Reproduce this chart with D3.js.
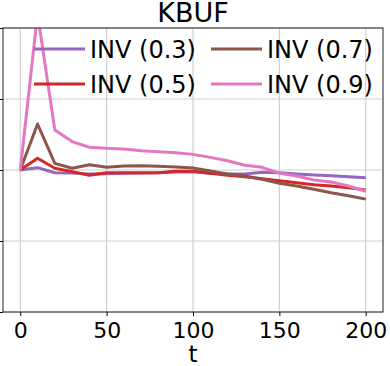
<!DOCTYPE html>
<html>
<head>
<meta charset="utf-8">
<script src="https://cdn.jsdelivr.net/npm/d3@7"></script>
<style>
  body { margin: 0; background: #fff; }
  svg { display: block; font-family: 'DejaVu Sans', sans-serif; }
</style>
</head>
<body>
<div id="chart"></div>
<script>
// data
const T_VALUES = [0, 10, 20, 30, 40, 50, 60, 70, 80, 90, 100, 110, 120, 130, 140, 150, 160, 170, 180, 190, 200];
const INV_03 = [0, 0.033, -0.038, -0.042, -0.056, -0.052, -0.047, -0.038, -0.038, -0.028, -0.023, -0.047, -0.056, -0.056, -0.033, -0.038, -0.056, -0.07, -0.08, -0.094, -0.11];
const INV_05 = [0, 0.165, 0.024, -0.023, -0.075, -0.038, -0.038, -0.042, -0.038, -0.019, -0.019, -0.047, -0.075, -0.094, -0.122, -0.15, -0.178, -0.207, -0.225, -0.25, -0.28];
const INV_07 = [0, 0.648, 0.094, 0.024, 0.075, 0.038, 0.056, 0.061, 0.052, 0.042, 0.028, -0.014, -0.056, -0.085, -0.131, -0.188, -0.225, -0.272, -0.32, -0.362, -0.41];
const INV_09 = [0, 2.2, 0.563, 0.40, 0.32, 0.305, 0.296, 0.27, 0.258, 0.244, 0.22, 0.178, 0.131, 0.066, 0.038, -0.045, -0.085, -0.14, -0.17, -0.225, -0.3];
const SERIES_NAMES = ['INV (0.3)', 'INV (0.5)', 'INV (0.7)', 'INV (0.9)'];
const X_TICKS = [0, 50, 100, 150, 200];
const Y_TICKS = [-2, -1, 0, 1, 2];
const TITLE = 'KBUF';
const X_LABEL = 't';

const WIDTH = 390;
const HEIGHT = 366;
const MARGIN = { top: 28, right: 7, bottom: 54, left: 3 };
const PLOT_W = WIDTH - MARGIN.left - MARGIN.right;
const PLOT_H = HEIGHT - MARGIN.top - MARGIN.bottom;
const COLORS = ['#9467bd', '#d62728', '#8c564b', '#e377c2'];
const GRID_COLOR = '#d0d0d0';

const seriesValues = [INV_03, INV_05, INV_07, INV_09];

const svg = d3.select('#chart')
  .append('svg')
    .attr('width', WIDTH)
    .attr('height', HEIGHT);

// matplotlib style 5% margins on x
const x = d3.scaleLinear().domain([-10, 210]).range([0, PLOT_W]);
const y = d3.scaleLinear().domain([-2, 2]).range([PLOT_H, 0]);

const plot = svg.append('g')
  .attr('transform', `translate(${MARGIN.left}, ${MARGIN.top})`);

plot.append('defs').append('clipPath')
    .attr('id', 'plot-clip')
  .append('rect')
    .attr('width', PLOT_W)
    .attr('height', PLOT_H);

// grid
plot.append('g')
  .selectAll('line')
  .data(X_TICKS)
  .enter()
  .append('line')
    .attr('x1', d => x(d)).attr('x2', d => x(d))
    .attr('y1', 0).attr('y2', PLOT_H)
    .attr('stroke', GRID_COLOR)
    .attr('stroke-width', 1.2);
plot.append('g')
  .selectAll('line')
  .data(Y_TICKS)
  .enter()
  .append('line')
    .attr('x1', 0).attr('x2', PLOT_W)
    .attr('y1', d => y(d)).attr('y2', d => y(d))
    .attr('stroke', GRID_COLOR)
    .attr('stroke-width', 1.2);

// series lines
const line = d3.line()
  .x((d, i) => x(T_VALUES[i]))
  .y(d => y(d));

plot.append('g')
    .attr('clip-path', 'url(#plot-clip)')
  .selectAll('path')
  .data(seriesValues)
  .enter()
  .append('path')
    .attr('d', d => line(d))
    .attr('fill', 'none')
    .attr('stroke', (d, i) => COLORS[i])
    .attr('stroke-width', 3)
    .attr('stroke-linejoin', 'round');

// axes
const xAxis = d3.axisBottom(x)
  .tickValues(X_TICKS)
  .tickSize(4)
  .tickPadding(6);
const xGuide = plot.append('g')
  .attr('transform', `translate(0, ${PLOT_H})`)
  .call(xAxis);
xGuide.select('.domain').remove();
xGuide.selectAll('text')
  .attr('font-size', 22)
  .attr('font-family', 'DejaVu Sans')
  .attr('fill', '#000');

// y tick labels fall outside the picture, only the marks show
const yAxis = d3.axisLeft(y)
  .tickValues(Y_TICKS)
  .tickSize(4)
  .tickFormat('');
const yGuide = plot.append('g').call(yAxis);
yGuide.select('.domain').remove();

// frame
plot.append('rect')
  .attr('width', PLOT_W)
  .attr('height', PLOT_H)
  .attr('fill', 'none')
  .attr('stroke', '#222')
  .attr('stroke-width', 1);

// title and x label
svg.append('text')
  .attr('x', MARGIN.left + PLOT_W / 2)
  .attr('y', 22)
  .attr('text-anchor', 'middle')
  .attr('font-size', 27)
  .text(TITLE);

svg.append('text')
  .attr('x', MARGIN.left + PLOT_W / 2)
  .attr('y', 362)
  .attr('text-anchor', 'middle')
  .attr('font-size', 23)
  .text(X_LABEL);

// legend, two columns, filled column by column
const legend = svg.append('g')
  .selectAll('g')
  .data(SERIES_NAMES)
  .enter()
  .append('g')
    .attr('transform', (d, i) => `translate(${34 + Math.floor(i / 2) * 177}, ${49 + (i % 2) * 35})`);
legend.append('line')
  .attr('x1', 0).attr('x2', 51)
  .attr('stroke', (d, i) => COLORS[i])
  .attr('stroke-width', 3);
legend.append('text')
  .attr('x', 56)
  .attr('dy', '0.36em')
  .attr('font-size', 24)
  .text(d => d);
</script>
</body>
</html>
